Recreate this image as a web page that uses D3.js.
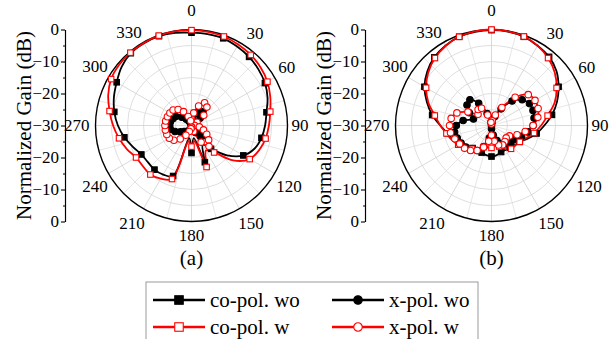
<!DOCTYPE html>
<html>
<head>
<meta charset="utf-8">
<script src="https://cdn.jsdelivr.net/npm/d3@7"></script>
<style>
body { margin: 0; background: #fff; }
svg { display: block; }
</style>
</head>
<body>
<svg width="614" height="339"></svg>
<script>
// ---------------- data (dB, 10 deg steps) ----------------
const angles = [0,10,20,30,40,50,60,70,80,90,100,110,120,130,140,150,160,170,
                180,190,200,210,220,230,240,250,260,270,280,290,300,310,320,330,340,350];

// panel (a)
const aCoWo = [-1.0,-1.0,-1.0,-1.5,-2.0,-2.7,-3.5,-4.7,-6.2,-7.0,-7.8,-9.0,-11.3,-15.5,-20.5,-23,-17.8,-26,
               -21.4,-26,-13.2,-12.3,-12.0,-12.2,-11.9,-10.5,-8.7,-7.0,-5.5,-4.2,-3.0,-1.5,-0.5,-0.3,-0.3,-0.6];
const aCoW  = [-0.2,-0.3,-0.4,-0.8,-1.2,-1.8,-2.6,-3.8,-5.0,-5.8,-6.5,-7.5,-9.0,-13,-19,-21,-16.2,-25,
               -23.4,-25,-12.2,-10.8,-10.0,-10.2,-10.0,-8.5,-7.0,-5.5,-4.0,-2.3,-1.0,-0.5,-0.3,-0.2,-0.1,-0.1];
const aXWo  = [-29,-28,-26,-24.8,-24.5,-26.5,-28.5,-29.5,-29.5,-29,-28,-27,-26,-25,-25.5,-27.5,-29,-29.5,
               -29.5,-29,-28.5,-28,-27.5,-27,-26,-24.5,-23.3,-23.2,-23.3,-23.8,-24.3,-26,-27.5,-28.5,-29.3,-29.5];
const aXW   = [-28,-26,-23.5,-21.8,-22.5,-25,-28,-29.5,-29.5,-29,-27.5,-26,-24.5,-23,-21.5,-24,-28,-29.5,
               -29.5,-29,-28,-26.5,-24.5,-22.8,-22,-21.8,-21.7,-21.7,-21.8,-22,-22.2,-22.5,-23.5,-25,-27,-28.5];

// panel (b)
const bCoWo = [-0.2,-0.2,-0.5,-1.2,-2.0,-3.5,-5.8,-8.2,-10.8,-13.5,-15.7,-18,-19.8,-20.5,-21,-21.2,-21.2,-20.6,
               -20.3,-20.6,-21,-21,-20.8,-19.8,-18.5,-17.3,-16,-14,-11.2,-8.5,-5.8,-3.8,-2.2,-1.2,-0.5,-0.3];
const bCoW  = [0,-0.1,-0.4,-1.2,-2.5,-4.2,-6.5,-9,-12.2,-14.5,-16.5,-18.5,-19.8,-20.3,-20.5,-21.5,-23,-23.5,
               -23,-23,-22.8,-21.8,-20.5,-19.2,-18,-16.8,-15.7,-14,-12,-9,-6.4,-4.2,-2.5,-1.3,-0.5,-0.1];
const bXWo  = [-30,-29,-27,-24,-20,-17.5,-16.3,-16.2,-16.5,-17,-18.5,-20,-21.5,-22,-22.5,-23.5,-25,-27,
               -29,-26,-23,-21,-20,-19.5,-19,-18.6,-18.3,-19,-21,-24,-22,-20,-19.5,-22,-26,-29];
const bXW   = [-29.5,-28.5,-26.5,-23.5,-18.5,-15,-14.3,-14.5,-15.3,-17,-19.3,-21.5,-23.5,-24,-23.5,-23,-23.5,-25,
               -27,-25,-22.8,-21,-19.8,-19,-18.5,-17.8,-17,-16.9,-17.2,-18.5,-21.5,-24.5,-23.5,-23.8,-26.5,-29];

const angleTicks = [0,30,60,90,120,150,180,210,240,270,300,330];
const gainTicksTop = [0,-10,-20,-30];
const gainTicksBottom = [-20,-10,0];
const gainMinor = [-5,-15,-25];
const gridLevels = [-25,-20,-15,-10,-5];
const panelNames = ["(a)", "(b)"];
const legendLabels = ["co-pol. wo", "x-pol. wo", "co-pol. w", "x-pol. w"];

// ---------------- font: pick the first serif face that is really installed ----------------
function hasFont(f) {
  const c = document.createElement("canvas").getContext("2d");
  const t = "Normalized Gain (dB) 0123456789";
  c.font = "40px monospace"; const m = c.measureText(t).width;
  c.font = `40px "${f}", monospace`; const w1 = c.measureText(t).width;
  c.font = "40px sans-serif"; const s = c.measureText(t).width;
  c.font = `40px "${f}", sans-serif`; const w2 = c.measureText(t).width;
  return w1 !== m || w2 !== s;
}
const serifFaces = ["Liberation Serif", "Tinos", "Times New Roman", "Nimbus Roman", "Nimbus Roman No9 L",
                    "FreeSerif", "DejaVu Serif", "Noto Serif", "Times"];
const found = serifFaces.find(hasFont);
const FONT = found ? `"${found}", serif` : "serif";

// ---------------- setup ----------------
const svg = d3.select("svg").attr("font-family", FONT);
const R = 96;
const rad = d3.scaleLinear().domain([-30, 0]).range([0, R]).clamp(true);
const ang = d3.scaleLinear().domain([0, 360]).range([0, 2 * Math.PI]);

const styles = {
  coWo: {color: "#000", shape: "square", filled: true, every: 2},
  coW:  {color: "#ff0000", shape: "square", filled: false, every: 2},
  xWo:  {color: "#000", shape: "circle", filled: true, every: 1},
  xW:   {color: "#ff0000", shape: "circle", filled: false, every: 1}
};

const panels = [
  {cx: 191.5, cy: 125.5, axisX: 65, titleX: 31, name: panelNames[0],
   series: [[aCoWo, styles.coWo], [aXWo, styles.xWo], [aCoW, styles.coW], [aXW, styles.xW]]},
  {cx: 491.5, cy: 125.5, axisX: 365, titleX: 331, name: panelNames[1],
   series: [[bCoWo, styles.coWo], [bXWo, styles.xWo], [bCoW, styles.coW], [bXW, styles.xW]]}
];

function marker(sel, st, size) {
  if (st.shape === "square") {
    sel.append("rect")
      .attr("x", -size / 2).attr("y", -size / 2)
      .attr("width", size).attr("height", size)
      .attr("fill", st.filled ? st.color : "#fff")
      .attr("stroke", st.color).attr("stroke-width", 1.1);
  } else {
    sel.append("circle")
      .attr("r", size / 2)
      .attr("fill", st.filled ? st.color : "#fff")
      .attr("stroke", st.color).attr("stroke-width", 1.1);
  }
}

// small hand nudges so the angle labels sit where the original puts them
const labelNudge = {0: [0, -5], 30: [7, 6], 60: [-2, -2], 90: [0, 0], 120: [-3, 3], 150: [2, -2],
                    180: [0, 0], 210: [-2, -2], 240: [4, 3], 270: [-2, 0], 300: [4, -1], 330: [-5, 7]};
function labelPos(d) {
  const w = String(d).length * 8.5, s = Math.sin(ang(d)), c = Math.cos(ang(d));
  const off = R + 4 + Math.abs(s) * w / 2 + Math.abs(c) * 10;
  return [s * off + labelNudge[d][0], -c * off + labelNudge[d][1]];
}

panels.forEach(p => {
  const g = svg.append("g").attr("transform", `translate(${p.cx},${p.cy})`);

  // grid
  g.selectAll(".ring").data(gridLevels).join("circle")
    .attr("r", d => rad(d))
    .attr("fill", "none").attr("stroke", "#d6d6d6").attr("stroke-width", 0.8);
  g.selectAll(".spoke").data(d3.range(0, 360, 15)).join("line")
    .attr("x1", 0).attr("y1", 0)
    .attr("x2", d => d3.pointRadial(ang(d), R)[0])
    .attr("y2", d => d3.pointRadial(ang(d), R)[1])
    .attr("stroke", d => d % 30 === 0 ? "#cfcfcf" : "#e0e0e0").attr("stroke-width", 0.8);

  // outer circle
  g.append("circle").attr("r", R)
    .attr("fill", "none").attr("stroke", "#000").attr("stroke-width", 1.4);

  // angle labels
  g.selectAll(".alab").data(angleTicks).join("text")
    .attr("font-size", 17)
    .attr("text-anchor", "middle")
    .attr("dominant-baseline", "central")
    .attr("x", d => labelPos(d)[0])
    .attr("y", d => labelPos(d)[1])
    .text(d => d);

  // curves
  const line = d3.lineRadial()
    .angle((d, i) => ang(angles[i]))
    .radius(d => rad(d))
    .curve(d3.curveCatmullRomClosed.alpha(0.5));

  p.series.forEach(([vals, st]) => {
    g.append("path").datum(vals)
      .attr("d", line)
      .attr("fill", "none").attr("stroke", st.color).attr("stroke-width", 1.8);
  });
  p.series.forEach(([vals, st]) => {
    const pts = vals.map((v, i) => ({a: angles[i], v: v})).filter((d, i) => i % st.every === 0);
    g.selectAll(null).data(pts).join("g")
      .attr("transform", d => {
        const q = d3.pointRadial(ang(d.a), rad(d.v));
        return `translate(${q[0]},${q[1]})`;
      })
      .each(function() { marker(d3.select(this), st, st.shape === "square" ? 5.5 : 6.5); });
  });

  // radial axis on the left
  const yTop = d3.scaleLinear().domain([0, -30]).range([p.cy - R, p.cy]);
  const yBot = d3.scaleLinear().domain([-30, 0]).range([p.cy, p.cy + R]);
  const ax = svg.append("g").attr("transform", `translate(${p.axisX},0)`);
  ax.append("g").call(d3.axisLeft(yTop).tickValues(gainTicksTop).tickSize(4).tickSizeOuter(0).tickPadding(2));
  ax.append("g").call(d3.axisLeft(yBot).tickValues(gainTicksBottom).tickSize(4).tickSizeOuter(0).tickPadding(2));
  ax.append("g").call(d3.axisLeft(yTop).tickValues(gainMinor).tickSize(2).tickSizeOuter(0).tickFormat(""));
  ax.append("g").call(d3.axisLeft(yBot).tickValues(gainMinor).tickSize(2).tickSizeOuter(0).tickFormat(""));
  ax.selectAll("g").attr("font-family", FONT);
  ax.selectAll("text").attr("font-size", 17).attr("fill", "#000");
  ax.selectAll("path, line").attr("stroke", "#000").attr("stroke-width", 1.1);

  svg.append("text")
    .attr("transform", `translate(${p.titleX},${p.cy}) rotate(-90)`)
    .attr("text-anchor", "middle")
    .attr("font-size", 21)
    .text("Normalized Gain (dB)");

  svg.append("text")
    .attr("x", p.cx).attr("y", 265)
    .attr("text-anchor", "middle")
    .attr("font-size", 21)
    .text(p.name);
});

// ---------------- legend ----------------
const leg = svg.append("g");
leg.append("rect").attr("x", 146).attr("y", 282).attr("width", 332).attr("height", 80)
  .attr("fill", "#fff").attr("stroke", "#9a9a9a").attr("stroke-width", 1);

const legItems = [
  {label: legendLabels[0], st: styles.coWo, x: 153, y: 300},
  {label: legendLabels[1], st: styles.xWo, x: 332, y: 300},
  {label: legendLabels[2], st: styles.coW, x: 153, y: 327},
  {label: legendLabels[3], st: styles.xW, x: 332, y: 327}
];
legItems.forEach(it => {
  const gi = leg.append("g").attr("transform", `translate(${it.x},${it.y})`);
  gi.append("line").attr("x1", 0).attr("x2", 52).attr("y1", 0).attr("y2", 0)
    .attr("stroke", it.st.color).attr("stroke-width", 2.5);
  const m = gi.append("g").attr("transform", "translate(26,0)");
  marker(m, it.st, 8.5);
  gi.append("text").attr("x", 57).attr("y", 6.5)
    .attr("font-size", 21).text(it.label);
});
</script>
</body>
</html>
